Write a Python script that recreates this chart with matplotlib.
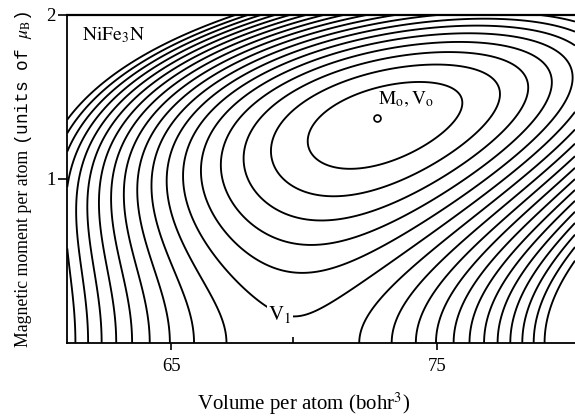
import numpy as np
import matplotlib
matplotlib.use('Agg')
from matplotlib import pyplot as plt

plt.rcParams['mathtext.fontset'] = 'stix'
plt.rcParams['font.family'] = ['Liberation Serif', 'DejaVu Serif']

# values (bohr^3, mu_B, arbitrary energy units)
V1 = 69.575          # non-magnetic equilibrium volume (tick "V1")
V0 = 72.75           # magnetic minimum (marker)
M0 = 1.37
levels = [-39.35, -31.75, -24.15, -16.55, -8.95, -1.35, 6.25, 13.85, 21.45,
          29.05, 36.65, 44.25, 51.85, 59.45, 67.05, 74.65, 82.25, 89.85]

# points where a contour of known level crosses
read_V = [69.35, 70.95, 72.57, 73.21, 66.2,
          72.76, 72.76, 72.76, 72.76, 72.76, 72.76, 72.76, 72.76,
          72.76, 72.76, 72.76, 72.76, 72.76, 72.76, 72.76,
          69.75, 75.95, 77.23, 78.2,
          61.08, 61.08, 67.46]
read_M = [0.165, 0.244, 0.384, 0.463, 0.87,
          1.06, 0.94, 0.82, 0.70, 0.54, 0.39, 1.59, 1.65,
          1.72, 1.77, 1.83, 1.87, 1.91, 1.95, 1.99,
          1.28, 1.50, 1.48, 1.45,
          1.38, 1.27, 2.0]
read_E = [-1.35, -1.35, -1.35, -1.35, -1.35,
          -39.35, -31.75, -24.15, -16.55, -8.95, -1.35, -39.35, -31.75,
          -24.15, -16.55, -8.95, -1.35, 6.25, 13.85, 21.45,
          -39.35, -39.35, -31.75, -24.15,
          89.85, 82.25, 89.85]

xlim = (61.08, 80.2)
ylim = (0.0, 2.0)
xticks = [65, 75]
yticks = [1, 2]


# Landau-type surface: E = x^2 + a(x) u + b(x) u^2 + c u^3, x = V - V1, u = M^2
def terms(V, M):
    x = np.asarray(V) - V1
    u = np.asarray(M) ** 2
    return [u, x * u, x * x * u, u * u, x * u * u, u ** 3]


rv, rm = np.array(read_V), np.array(read_M)
A = np.column_stack(terms(rv, rm))
coef = np.linalg.lstsq(A, np.array(read_E) - (rv - V1) ** 2, rcond=None)[0]


def energy(V, M):
    return (V - V1) ** 2 + sum(c * t for c, t in zip(coef, terms(V, M)))


V = np.linspace(xlim[0], xlim[1], 700)
M = np.linspace(ylim[0], ylim[1], 500)
VV, MM = np.meshgrid(V, M)
E = energy(VV, MM)

fig = plt.figure(figsize=(5.75, 4.16), dpi=100)
ax = fig.add_axes([0.117, 0.1755, 0.883, 0.7885])

ax.contour(VV, MM, E, levels=levels, colors='black', linewidths=1.35,
           negative_linestyles='solid')
ax.plot([V0], [M0], 'o', mfc='white', mec='black', ms=5, mew=1.2, zorder=4)

ax.set_xlim(*xlim)
ax.set_ylim(*ylim)
ax.set_xticks(xticks)
ax.set_yticks(yticks)
ax.set_xticks([V1], minor=True)
ax.tick_params(axis='x', which='major', direction='out', length=5, width=1.2,
               pad=6, labelsize=13.5)
ax.tick_params(axis='x', which='minor', direction='in', length=4, width=1.2)
ax.tick_params(axis='y', which='major', direction='out', length=6.5, width=1.2,
               pad=2, labelsize=13.5)
ax.spines['right'].set_visible(False)
ax.spines['top'].set_linewidth(1.6)
ax.spines['left'].set_linewidth(1.3)
ax.spines['bottom'].set_linewidth(1.3)

ax.text(61.63, 1.848, r'$\mathrm{NiFe_3N}$', fontsize=14, va='baseline')
ax.text(72.8, 1.457, r'$\mathrm{M_o,V_o}$', fontsize=14, va='baseline')
ax.text(68.65, 0.14, r'$\mathrm{V_1}$', fontsize=15, va='baseline',
        bbox=dict(facecolor='white', edgecolor='none', pad=1.0), zorder=5)

fig.text(303.5 / 575, 6 / 416, 'Volume per atom (bohr$^3$)', fontsize=15,
         ha='center', va='baseline')

# y label: serif part followed by a typewriter part, on a shared baseline
fig.canvas.draw()
r = fig.canvas.get_renderer()
x_base = 28.5 / 575
t1 = fig.text(x_base, 1 - 347 / 416, 'Magnetic moment per atom ', rotation=90,
              rotation_mode='anchor', ha='left', va='baseline', fontsize=12.8)
bb = t1.get_window_extent(r)
fig.text(x_base, bb.y1 / fig.bbox.height, r'(units of $\mu_\mathrm{B}$)',
         rotation=90, rotation_mode='anchor', ha='left', va='baseline',
         fontsize=12.8, family='Liberation Mono')

fig.savefig('out.png', dpi=100)
